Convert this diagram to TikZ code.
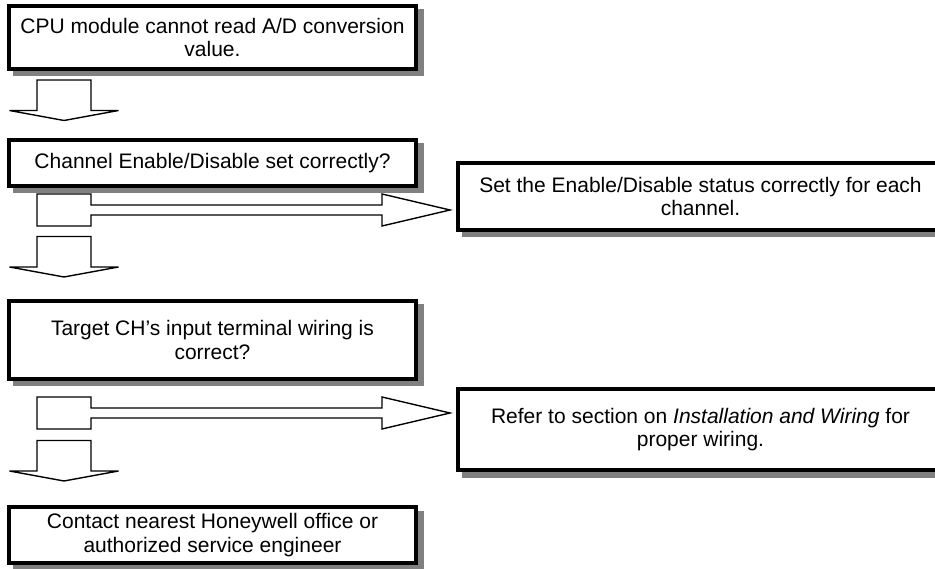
\documentclass[tikz,border=0pt]{standalone}
\usepackage{fontspec}
\setmainfont{Liberation Sans}
\usetikzlibrary{shadows}
\definecolor{shadowgray}{RGB}{128,128,128}
\begin{document}
\begin{tikzpicture}[x=1pt,y=-1pt,
  box/.style={draw=black, line width=3.6pt, fill=white, align=center, inner sep=0pt,
    font=\fontsize{21}{23.5}\selectfont,
    drop shadow={shadow xshift=5.5pt, shadow yshift=-5.5pt, fill=shadowgray,
      draw=shadowgray, line width=3.6pt, opacity=1}},
  leftbox/.style={box, minimum width=407.4pt},
  rightbox/.style={box, minimum width=485.4pt},
  blockline/.style={draw=black, line width=1.4pt, fill=white, line join=miter},
  downblock/.pic={\draw[blockline] (-27,0) -- (27,0) -- (27,30.5) -- (54.5,30.5)
      -- (0,40.5) -- (-54.5,30.5) -- (-27,30.5) -- cycle;},
  sideblock/.pic={\draw[blockline] (0,0) -- (54,0) -- (54,11) -- (345,11) -- (345,0)
      -- (413,16) -- (345,32) -- (345,21) -- (54,21) -- (54,32) -- (0,32) -- cycle;}]
\useasboundingbox (0,0) rectangle (935,569);

\node[leftbox, minimum height=63.4pt] (b1) at (212.5,37.5)
  {CPU module cannot read A/D conversion\\value.};
\node[leftbox, minimum height=46.4pt] (b2) at (212.5,163)
  {Channel Enable/Disable set correctly?};
\node[rightbox, minimum height=67.4pt] (b3) at (700.5,196.5)
  {Set the Enable/Disable status correctly for each\\channel.};
\node[leftbox, minimum height=78.4pt] (b4) at (212.5,340)
  {Target CH’s input terminal wiring is\\correct?};
\node[rightbox, minimum height=81.4pt] (b5) at (700.5,429.5)
  {Refer to section on \textit{Installation and Wiring} for\\proper wiring.};
\node[leftbox, minimum height=56.4pt] (b6) at (212.5,535)
  {Contact nearest Honeywell office or\\authorized service engineer};

\pic (a1) at (64,80) {downblock};
\pic (h1) at (37,194) {sideblock};
\pic (a2) at (64,236.5) {downblock};
\pic (h2) at (37,397) {sideblock};
\pic (a3) at (64,440.5) {downblock};
\end{tikzpicture}
\end{document}
